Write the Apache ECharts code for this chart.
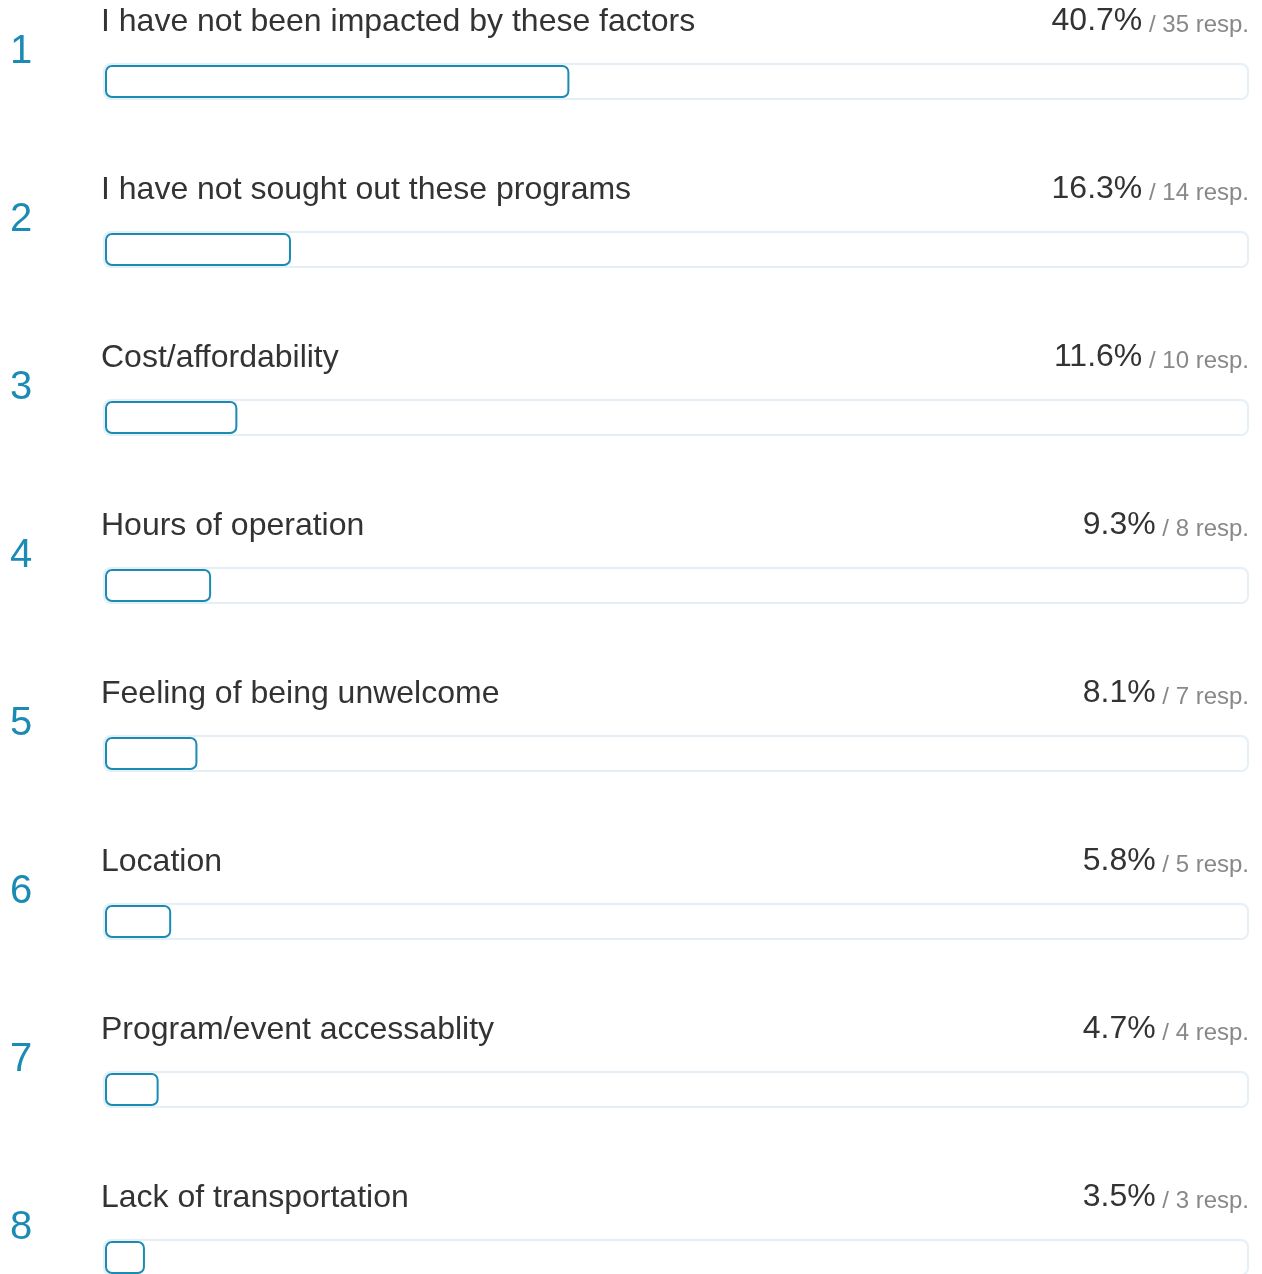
<!DOCTYPE html>
<html>
<head>
<meta charset="utf-8">
<title>Survey responses</title>
<script src="https://cdn.jsdelivr.net/npm/echarts@6/dist/echarts.min.js"></script>
<style>
  html, body { margin: 0; padding: 0; background: #fff; }
  #chart { width: 1262px; height: 1274px; }
</style>
</head>
<body>
<div id="chart"></div>
<script>
// Answer options, in ranked order
const categories = [
  'I have not been impacted by these factors',
  'I have not sought out these programs',
  'Cost/affordability',
  'Hours of operation',
  'Feeling of being unwelcome',
  'Location',
  'Program/event accessablity',
  'Lack of transportation'
];
// Share of respondents (%) for each option
const percents = [40.7, 16.3, 11.6, 9.3, 8.1, 5.8, 4.7, 3.5];
// Number of responses for each option
const responses = [35, 14, 10, 8, 7, 5, 4, 3];
// Full scale of every track
const scaleMax = 100;

const FONT = '"Liberation Sans", Arial, Helvetica, sans-serif';
const TEAL = '#1b8bb4';
const ROW_PITCH = 168;

const chart = echarts.init(document.getElementById('chart'), null, { renderer: 'canvas' });

const rowsGrid = {
  top: -2.5,
  height: ROW_PITCH * categories.length,
  outerBoundsMode: 'none',
  containLabel: false
};

const hiddenCategoryAxis = {
  type: 'category',
  data: categories,
  inverse: true,
  axisLine: { show: false },
  axisTick: { show: false },
  splitLine: { show: false }
};

chart.setOption({
  animation: false,
  backgroundColor: '#fff',
  grid: [
    // outer track area
    Object.assign({ left: 103, width: 1146 }, rowsGrid),
    // value bars sit just inside the track
    Object.assign({ left: 105, width: 1141 }, rowsGrid)
  ],
  xAxis: [
    { gridIndex: 0, type: 'value', min: 0, max: scaleMax, show: false },
    { gridIndex: 1, type: 'value', min: 0, max: scaleMax, show: false }
  ],
  yAxis: [
    Object.assign({ gridIndex: 0 }, hiddenCategoryAxis, {
      axisLabel: {
        show: true,
        formatter: (value, index) => String(index + 1),
        color: TEAL,
        fontFamily: FONT,
        fontSize: 40,
        align: 'left',
        verticalAlign: 'bottom',
        lineHeight: 60,
        margin: 93
      }
    }),
    Object.assign({ gridIndex: 1 }, hiddenCategoryAxis, { axisLabel: { show: false } })
  ],
  series: [
    {
      // light track spanning the whole scale, with the share on its right
      name: 'track',
      type: 'bar',
      xAxisIndex: 0,
      yAxisIndex: 0,
      silent: true,
      barWidth: 37,
      data: categories.map(() => scaleMax),
      itemStyle: {
        color: '#fff',
        borderColor: '#e4f0f5',
        borderWidth: 2,
        borderRadius: 7
      },
      label: {
        show: true,
        position: ['100%', -25.5],
        align: 'right',
        verticalAlign: 'bottom',
        formatter: (p) => '{p|' + percents[p.dataIndex].toFixed(1) + '%}{r| / ' + responses[p.dataIndex] + ' resp.}',
        rich: {
          p: { fontFamily: FONT, fontSize: 32, color: '#333', lineHeight: 32, verticalAlign: 'bottom' },
          r: { fontFamily: FONT, fontSize: 24, color: '#888', lineHeight: 16, verticalAlign: 'bottom' }
        }
      },
      z: 1
    },
    {
      name: 'share',
      type: 'bar',
      xAxisIndex: 1,
      yAxisIndex: 1,
      barWidth: 33,
      data: percents,
      itemStyle: {
        color: '#fff',
        borderColor: TEAL,
        borderWidth: 2,
        borderRadius: 6
      },
      label: {
        show: true,
        position: [-4, -27],
        align: 'left',
        verticalAlign: 'bottom',
        formatter: '{t|{b}}',
        rich: {
          t: { fontFamily: FONT, fontSize: 32, color: '#333', lineHeight: 32, verticalAlign: 'bottom' }
        }
      },
      z: 2
    }
  ]
});
</script>
</body>
</html>
